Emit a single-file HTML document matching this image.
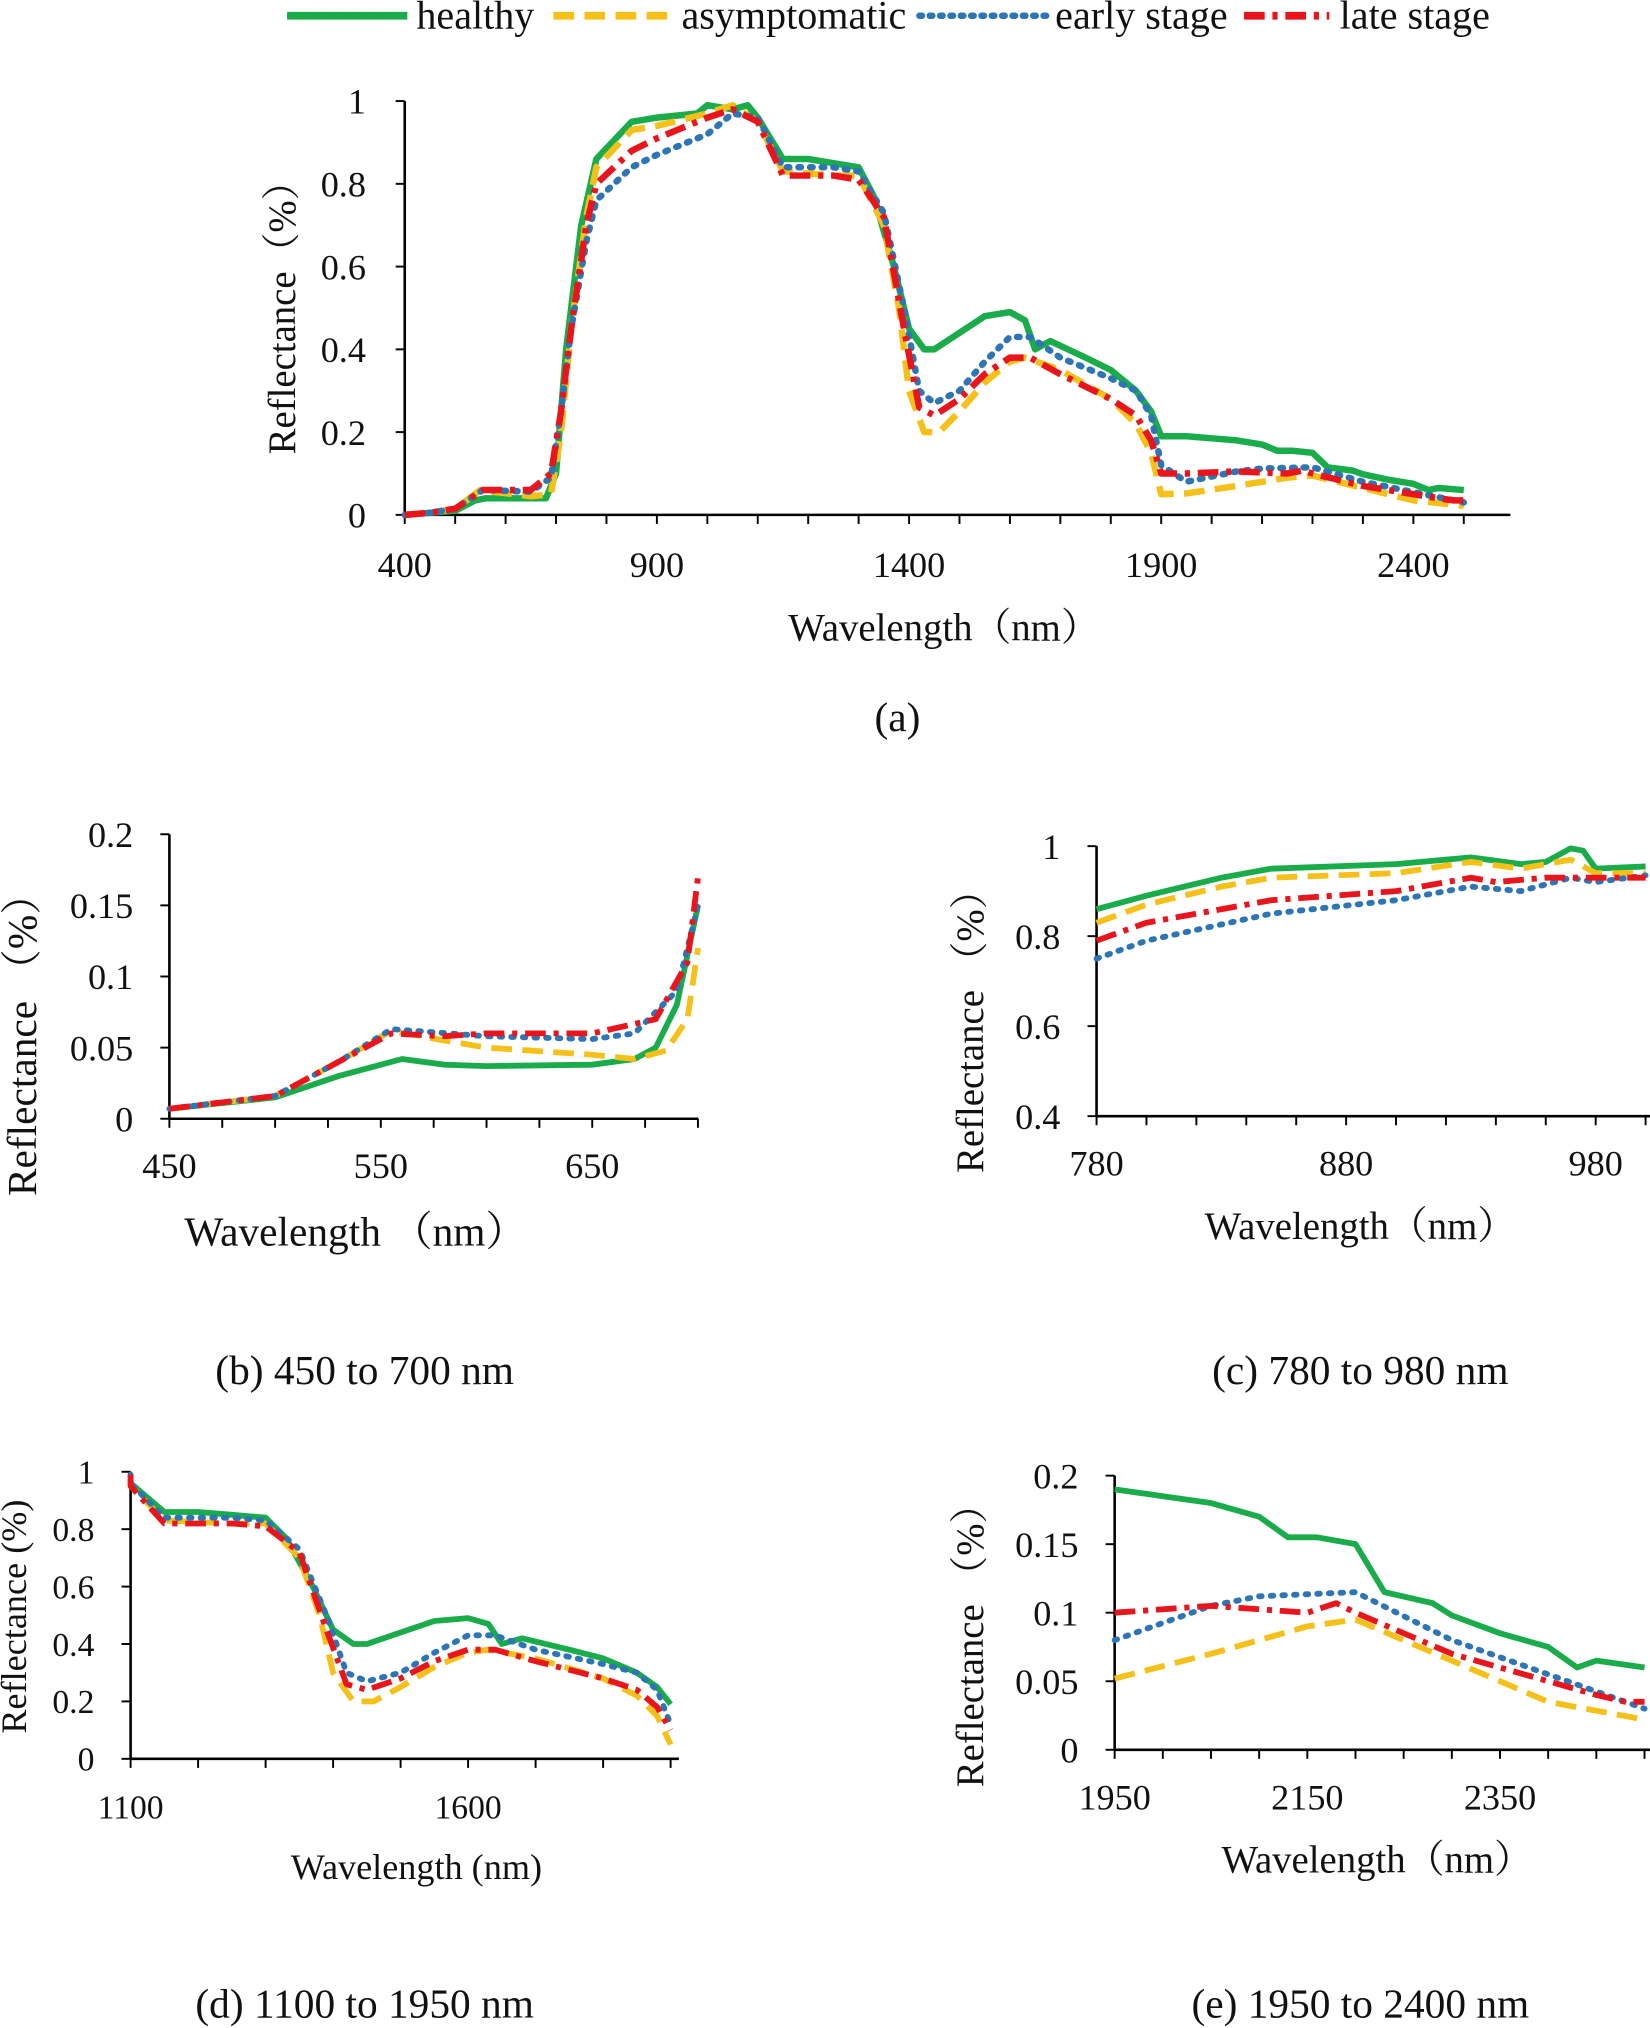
<!DOCTYPE html>
<html><head><meta charset="utf-8"><style>
html,body{margin:0;padding:0;background:#fff}
svg{display:block}
text{font-family:"Liberation Serif","Noto Serif CJK SC",serif;fill:#111}
</style></head><body>
<svg id="s" xmlns="http://www.w3.org/2000/svg" width="1650" height="2028" viewBox="0 0 1276 1568">
<rect width="1276" height="1568" fill="#fff"/>
<line x1="222" y1="12" x2="315" y2="12" stroke="#1aac4a" stroke-width="6"/>
<text x="322" y="22" font-size="31">healthy</text>
<line x1="428" y1="12" x2="520" y2="12" stroke="#f5c01a" stroke-width="6" stroke-dasharray="16,8"/>
<text x="527" y="22" font-size="31">asymptomatic</text>
<line x1="711" y1="12" x2="810" y2="12" stroke="#2e75b6" stroke-width="5" stroke-dasharray="2,6" stroke-linecap="round"/>
<text x="816" y="22" font-size="31">early stage</text>
<line x1="962" y1="12" x2="1028" y2="12" stroke="#e8151c" stroke-width="6" stroke-dasharray="16,6,4,6"/>
<text x="1036" y="22" font-size="31">late stage</text>
<text x="694" y="565" font-size="32" text-anchor="middle">(a)</text>
<text x="282" y="1070" font-size="32" text-anchor="middle">(b) 450 to 700 nm</text>
<text x="1052" y="1070" font-size="32" text-anchor="middle">(c) 780 to 980 nm</text>
<text x="282" y="1560" font-size="32" text-anchor="middle">(d) 1100 to 1950 nm</text>
<text x="1052" y="1560" font-size="32" text-anchor="middle">(e) 1950 to 2400 nm</text>
</svg>
<script>
var S=document.getElementById('s'),NS='http://www.w3.org/2000/svg';
function el(t,a,txt){var e=document.createElementNS(NS,t);for(var k in a)e.setAttribute(k,a[k]);if(txt!==undefined)e.textContent=txt;S.appendChild(e);return e;}
var sty={
 h:{stroke:'#1aac4a',dash:null,cap:'butt'},
 a:{stroke:'#f5c01a',dash:'16,8',cap:'butt'},
 e:{stroke:'#2e75b6',dash:'2,7',cap:'round'},
 l:{stroke:'#e8151c',dash:'16,6,4,6',cap:'butt'}
};
function panel(p){
 var X=function(v){return p.x0+(v-p.xv0)*p.xs;},Y=function(v){return p.y0-(v-p.yv0)*p.ys;};
 el('line',{x1:p.x0,y1:p.y0,x2:p.xEnd,y2:p.y0,stroke:'#000','stroke-width':2});
 el('line',{x1:p.x0,y1:p.y0,x2:p.x0,y2:Y(p.yv1),stroke:'#000','stroke-width':2});
 for(var v=p.xv0;X(v)<=p.xEnd+0.5;v+=p.xminor) el('line',{x1:X(v),y1:p.y0,x2:X(v),y2:p.y0+7,stroke:'#000','stroke-width':1.5});
 p.xt.forEach(function(v){el('text',{x:X(v),y:p.y0+p.xtOff,'font-size':p.fs,'text-anchor':'middle'},String(v));});
 p.yt.forEach(function(v){el('line',{x1:p.x0-7,y1:Y(v),x2:p.x0,y2:Y(v),stroke:'#000','stroke-width':1.5});
   el('text',{x:p.x0-p.ytOff,y:Y(v)+p.fs*0.35,'font-size':p.fs,'text-anchor':'end'},String(v));});
 el('text',{x:p.xtx,y:p.xty,'font-size':p.tfs,'text-anchor':'middle'},p.xtitle);
 el('text',{x:0,y:0,'font-size':p.tfs,'text-anchor':'middle',transform:'translate('+p.ytx+','+p.yty+') rotate(-90)'},p.ytitle);
 ['h','a','e','l'].forEach(function(k){
  var d=p.d[k],pts=d.map(function(q){return X(q[0]).toFixed(1)+','+Y(q[1]).toFixed(1);}).join(' ');
  var a={points:pts,fill:'none',stroke:sty[k].stroke,'stroke-width':p.sw,'stroke-linecap':sty[k].cap,'stroke-linejoin':'round'};
  if(sty[k].dash)a['stroke-dasharray']=sty[k].dash;
  el('polyline',a);
 });
}
function P(a){var r=[];for(var i=0;i<a.length;i+=2)r.push([a[i],a[i+1]]);return r;}
var vis={
 h:[400,0,450,0.005,500,0.01,540,0.035,560,0.04,600,0.04,680,0.04,700,0.1,720,0.4,750,0.7,780,0.86,850,0.95,900,0.96,980,0.97,1000,0.99,1050,0.98,1080,0.99,1100,0.96],
 a:[400,0,450,0.005,500,0.015,550,0.06,650,0.045,690,0.05,710,0.2,730,0.45,760,0.72,780,0.84,850,0.93,900,0.94,1000,0.97,1050,0.99,1100,0.95],
 e:[400,0,450,0.005,500,0.015,555,0.06,650,0.056,690,0.09,710,0.25,730,0.45,760,0.66,780,0.76,850,0.84,900,0.87,1000,0.92,1050,0.97,1100,0.96],
 l:[400,0,450,0.005,500,0.015,555,0.06,650,0.06,690,0.1,710,0.25,730,0.45,760,0.7,780,0.80,850,0.88,900,0.91,1000,0.96,1050,0.98,1100,0.95]
};
var swir={
 h:[1150,0.86,1200,0.86,1250,0.85,1300,0.84,1330,0.77,1370,0.6,1400,0.45,1430,0.40,1450,0.40,1500,0.44,1550,0.48,1600,0.49,1630,0.47,1650,0.40,1680,0.42,1750,0.38,1800,0.35,1850,0.30,1880,0.25,1900,0.19,1950,0.19,2000,0.185,2050,0.18,2100,0.17,2130,0.155,2160,0.155,2200,0.15,2230,0.115,2280,0.107,2300,0.098,2350,0.085,2400,0.075,2430,0.06,2450,0.065,2500,0.06],
 a:[1150,0.83,1250,0.82,1300,0.82,1350,0.7,1380,0.5,1400,0.30,1430,0.20,1460,0.20,1500,0.25,1550,0.32,1600,0.37,1630,0.38,1700,0.35,1800,0.28,1850,0.22,1880,0.15,1900,0.05,1950,0.052,2050,0.07,2150,0.09,2200,0.095,2300,0.065,2400,0.035,2500,0.022],
 e:[1150,0.84,1250,0.84,1300,0.83,1350,0.73,1390,0.50,1420,0.30,1450,0.27,1500,0.30,1550,0.37,1600,0.43,1640,0.43,1700,0.38,1800,0.33,1850,0.30,1880,0.24,1900,0.12,1950,0.08,2050,0.105,2100,0.112,2200,0.115,2300,0.08,2400,0.055,2500,0.03],
 l:[1150,0.82,1250,0.82,1300,0.81,1350,0.72,1390,0.45,1420,0.26,1450,0.24,1500,0.28,1550,0.34,1600,0.38,1640,0.38,1700,0.34,1800,0.28,1850,0.24,1880,0.18,1900,0.10,1950,0.10,2050,0.105,2150,0.10,2180,0.107,2200,0.10,2300,0.07,2350,0.06,2400,0.05,2450,0.04,2480,0.035,2500,0.035]
};
var full={};['h','a','e','l'].forEach(function(k){full[k]=P(vis[k].concat(swir[k]));});
function rng(d,a,b){var r={};for(var k in d)r[k]=d[k].filter(function(q){return q[0]>=a&&q[0]<=b;});return r;}
panel({x0:313,y0:398,xv0:400,xs:0.39,yv0:0,yv1:1,ys:320,xEnd:1168,xminor:100,xt:[400,900,1400,1900,2400],yt:[0,0.2,0.4,0.6,0.8,1],
 fs:28,xtOff:48,ytOff:30,tfs:30,xtitle:'Wavelength（nm）',xtx:730,xty:495,ytitle:'Reflectance（%）',ytx:228,yty:238,sw:5,d:full});
var bd={h:P([450,0.007,500,0.015,530,0.03,560,0.042,580,0.038,600,0.037,650,0.038,670,0.042,680,0.05,690,0.08,700,0.15]),
 a:P([450,0.007,500,0.016,530,0.04,555,0.062,580,0.055,600,0.05,650,0.045,670,0.042,685,0.048,695,0.07,700,0.12]),
 e:P([450,0.007,500,0.016,530,0.04,555,0.063,600,0.058,650,0.056,670,0.06,690,0.09,700,0.15]),
 l:P([450,0.007,500,0.016,530,0.04,555,0.06,580,0.058,600,0.06,650,0.06,680,0.07,695,0.11,700,0.17])};
panel({x0:131,y0:865,xv0:450,xs:1.635,yv0:0,yv1:0.2,ys:1100,xEnd:540,xminor:25,xt:[450,550,650],yt:[0,0.05,0.1,0.15,0.2],
 fs:28,xtOff:46,ytOff:28,tfs:32,xtitle:'Wavelength （nm）',xtx:275,xty:963,ytitle:'Reflectance （%）',ytx:28,yty:800,sw:4.5,d:bd});
var cd={h:P([780,0.86,800,0.89,830,0.93,850,0.95,900,0.96,930,0.975,950,0.96,960,0.965,970,0.995,975,0.99,980,0.95,1000,0.955]),
 a:P([780,0.83,800,0.87,830,0.91,850,0.93,900,0.94,930,0.965,950,0.95,970,0.97,980,0.94,1000,0.94]),
 e:P([780,0.75,800,0.79,850,0.85,900,0.88,930,0.91,950,0.90,970,0.93,980,0.92,1000,0.935]),
 l:P([780,0.79,800,0.83,850,0.88,900,0.90,930,0.93,940,0.92,960,0.93,980,0.93,1000,0.93])};
panel({x0:848,y0:863,xv0:780,xs:1.93,yv0:0.4,yv1:1,ys:348,xEnd:1276,xminor:20,xt:[780,880,980],yt:[0.4,0.6,0.8,1],
 fs:28,xtOff:46,ytOff:28,tfs:30,xtitle:'Wavelength（nm）',xtx:1052,xty:958,ytitle:'Reflectance （%）',ytx:760,yty:790,sw:4.5,d:cd});
var dd=rng(full,1090,1920);for(var k in dd)dd[k].unshift([1100,0.99]);
panel({x0:101,y0:1360,xv0:1100,xs:0.522,yv0:0,yv1:1,ys:222,xEnd:525,xminor:100,xt:[1100,1600],yt:[0,0.2,0.4,0.6,0.8,1],
 fs:26,xtOff:46,ytOff:28,tfs:28,xtitle:'Wavelength (nm)',xtx:322,xty:1453,ytitle:'Reflectance (%)',ytx:20,yty:1250,sw:4.5,d:dd});
var ed=rng(full,1950,2510);
panel({x0:862,y0:1353,xv0:1950,xs:0.745,yv0:0,yv1:0.2,ys:1060,xEnd:1276,xminor:50,xt:[1950,2150,2350],yt:[0,0.05,0.1,0.15,0.2],
 fs:28,xtOff:46,ytOff:28,tfs:30,xtitle:'Wavelength（nm）',xtx:1065,xty:1448,ytitle:'Reflectance （%）',ytx:760,yty:1265,sw:4.5,d:ed});
</script>
</body></html>
